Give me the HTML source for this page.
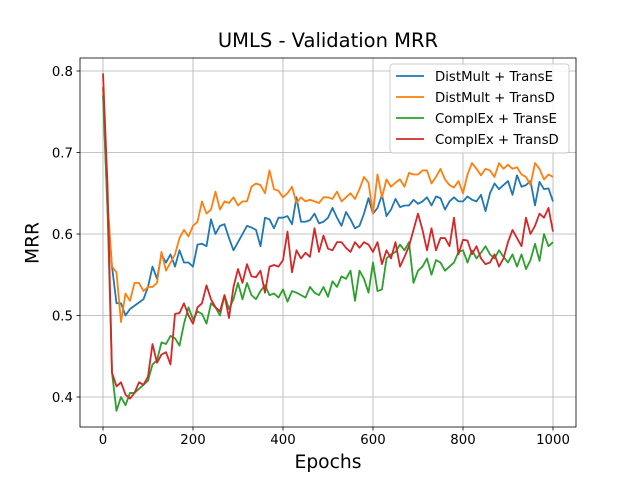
<!DOCTYPE html>
<html><head><meta charset="utf-8"><style>
body{margin:0;background:#fff}
svg{display:block;font-family:"DejaVu Sans","Liberation Sans",sans-serif}
</style></head><body>
<svg id="chart" width="640" height="480"></svg>
<script>
const epochs=[];for(let i=0;i<=100;i++)epochs.push(i*10);
const xTicks=[0,200,400,600,800,1000];
const yTicks=[0.4,0.5,0.6,0.7,0.8];
const seriesNames=["DistMult + TransE","DistMult + TransD","ComplEx + TransE","ComplEx + TransD"];
const distmultTransE=[0.78,0.63,0.56,0.515,0.515,0.50,0.508,0.512,0.516,0.52,0.535,0.56,0.545,0.575,0.565,0.575,0.56,0.58,0.565,0.565,0.56,0.587,0.588,0.585,0.618,0.60,0.61,0.612,0.595,0.58,0.59,0.60,0.61,0.608,0.605,0.585,0.62,0.618,0.607,0.62,0.62,0.622,0.612,0.645,0.615,0.615,0.617,0.625,0.613,0.615,0.62,0.632,0.62,0.61,0.627,0.618,0.607,0.61,0.625,0.644,0.625,0.632,0.648,0.622,0.63,0.643,0.633,0.635,0.635,0.642,0.637,0.64,0.645,0.635,0.646,0.644,0.63,0.64,0.645,0.64,0.64,0.646,0.642,0.64,0.648,0.628,0.65,0.662,0.655,0.66,0.665,0.648,0.672,0.658,0.66,0.665,0.635,0.664,0.655,0.656,0.64];
const distmultTransD=[0.78,0.64,0.56,0.553,0.492,0.527,0.518,0.54,0.54,0.53,0.535,0.535,0.54,0.578,0.555,0.565,0.575,0.595,0.605,0.597,0.61,0.615,0.64,0.625,0.63,0.652,0.63,0.64,0.638,0.645,0.635,0.64,0.64,0.658,0.662,0.66,0.65,0.678,0.655,0.653,0.645,0.65,0.658,0.638,0.645,0.64,0.642,0.64,0.638,0.645,0.645,0.643,0.652,0.64,0.645,0.65,0.643,0.655,0.67,0.663,0.625,0.673,0.645,0.667,0.658,0.663,0.667,0.658,0.675,0.673,0.673,0.678,0.678,0.662,0.67,0.68,0.667,0.66,0.657,0.665,0.65,0.673,0.687,0.68,0.672,0.68,0.678,0.67,0.687,0.68,0.685,0.68,0.682,0.673,0.67,0.66,0.687,0.68,0.667,0.673,0.67];
const complexTransE=[0.77,0.63,0.43,0.383,0.40,0.39,0.405,0.405,0.41,0.415,0.42,0.44,0.445,0.467,0.465,0.475,0.472,0.463,0.49,0.51,0.495,0.505,0.502,0.49,0.515,0.51,0.50,0.525,0.508,0.52,0.54,0.52,0.54,0.525,0.52,0.53,0.537,0.525,0.527,0.522,0.532,0.517,0.53,0.528,0.525,0.522,0.535,0.528,0.525,0.535,0.523,0.542,0.535,0.548,0.545,0.555,0.518,0.555,0.545,0.528,0.565,0.53,0.532,0.57,0.575,0.578,0.587,0.58,0.59,0.54,0.555,0.56,0.57,0.55,0.568,0.565,0.555,0.56,0.565,0.578,0.58,0.565,0.58,0.57,0.577,0.585,0.575,0.57,0.58,0.572,0.565,0.575,0.56,0.575,0.557,0.568,0.588,0.567,0.60,0.585,0.59];
const complexTransD=[0.797,0.66,0.43,0.413,0.418,0.403,0.398,0.405,0.418,0.415,0.425,0.465,0.442,0.452,0.455,0.44,0.502,0.503,0.515,0.50,0.49,0.51,0.515,0.537,0.52,0.51,0.505,0.525,0.497,0.535,0.557,0.54,0.563,0.548,0.547,0.555,0.528,0.56,0.562,0.56,0.568,0.603,0.553,0.58,0.57,0.577,0.572,0.607,0.578,0.598,0.582,0.58,0.59,0.59,0.583,0.578,0.59,0.583,0.59,0.587,0.578,0.59,0.563,0.58,0.57,0.59,0.56,0.572,0.585,0.605,0.625,0.605,0.58,0.607,0.58,0.595,0.595,0.585,0.62,0.575,0.593,0.592,0.575,0.585,0.57,0.563,0.565,0.575,0.56,0.57,0.59,0.605,0.595,0.585,0.62,0.60,0.61,0.625,0.62,0.632,0.603];
const allSeries=[distmultTransE,distmultTransD,complexTransE,complexTransD];
const colors=["#1f77b4","#ff7f0e","#2ca02c","#d62728"];
const NS="http://www.w3.org/2000/svg";
const svg=document.getElementById('chart');
const L=80,R=576,T=58,B=427;
const xs=v=>103+v*0.45;
const ys=v=>397-(v-0.4)*815;
function mk(tag,attrs,parent){const e=document.createElementNS(NS,tag);for(const k in attrs)e.setAttribute(k,attrs[k]);(parent||svg).appendChild(e);return e;}
xTicks.forEach(t=>{const g=mk('line',{x1:xs(t),x2:xs(t),y1:T,y2:B,stroke:'#b0b0b0','stroke-width':0.8});

});
yTicks.forEach(t=>{const g=mk('line',{x1:L,x2:R,y1:ys(t),y2:ys(t),stroke:'#b0b0b0','stroke-width':0.8});

});
allSeries.forEach((s,i)=>{const p=mk('polyline',{points:s.map((v,j)=>xs(epochs[j])+','+ys(v)).join(' '),fill:'none',stroke:colors[i],'stroke-width':1.8,'stroke-linejoin':'round'});

});
const fr=mk('rect',{x:L,y:T,width:R-L,height:B-T,fill:'none',stroke:'#000','stroke-width':0.8});


xTicks.forEach(t=>{mk('line',{x1:xs(t),x2:xs(t),y1:B,y2:B+3.5,stroke:'#000','stroke-width':0.8});
const tx=mk('text',{x:xs(t),y:B+17,'text-anchor':'middle','font-size':'13.3px',fill:'#000'});tx.textContent=t;

});
yTicks.forEach(t=>{mk('line',{x1:L,x2:L-3.5,y1:ys(t),y2:ys(t),stroke:'#000','stroke-width':0.8});
const tx=mk('text',{x:L-7,y:ys(t)+5,'text-anchor':'end','font-size':'13.3px',fill:'#000'});tx.textContent=t.toFixed(1);

});
const lg=mk('g',{});


mk('rect',{x:390,y:64,width:179,height:89,rx:3,fill:'#fff','fill-opacity':0.8,stroke:'#ccc','stroke-width':1},lg);
seriesNames.forEach((n,i)=>{const y=76+i*21;
mk('line',{x1:396,x2:424,y1:y,y2:y,stroke:colors[i],'stroke-width':1.8},lg);
const tx=mk('text',{x:435,y:y+5,'font-size':'13.3px',fill:'#000'},lg);tx.textContent=n;

});
</script>
<div style="position:absolute;left:0;top:29px;width:656px;text-align:center;font:19.5px 'DejaVu Sans','Liberation Sans',sans-serif">UMLS - Validation MRR</div>
<div style="position:absolute;left:0;top:452px;width:656px;text-align:center;font:18.7px 'DejaVu Sans','Liberation Sans',sans-serif">Epochs</div>
<div style="position:absolute;left:11px;top:243px;transform:translate(-50%,-50%) rotate(-90deg);transform-origin:center;font:18.7px 'DejaVu Sans','Liberation Sans',sans-serif;margin-left:22px">MRR</div>
</body></html>
